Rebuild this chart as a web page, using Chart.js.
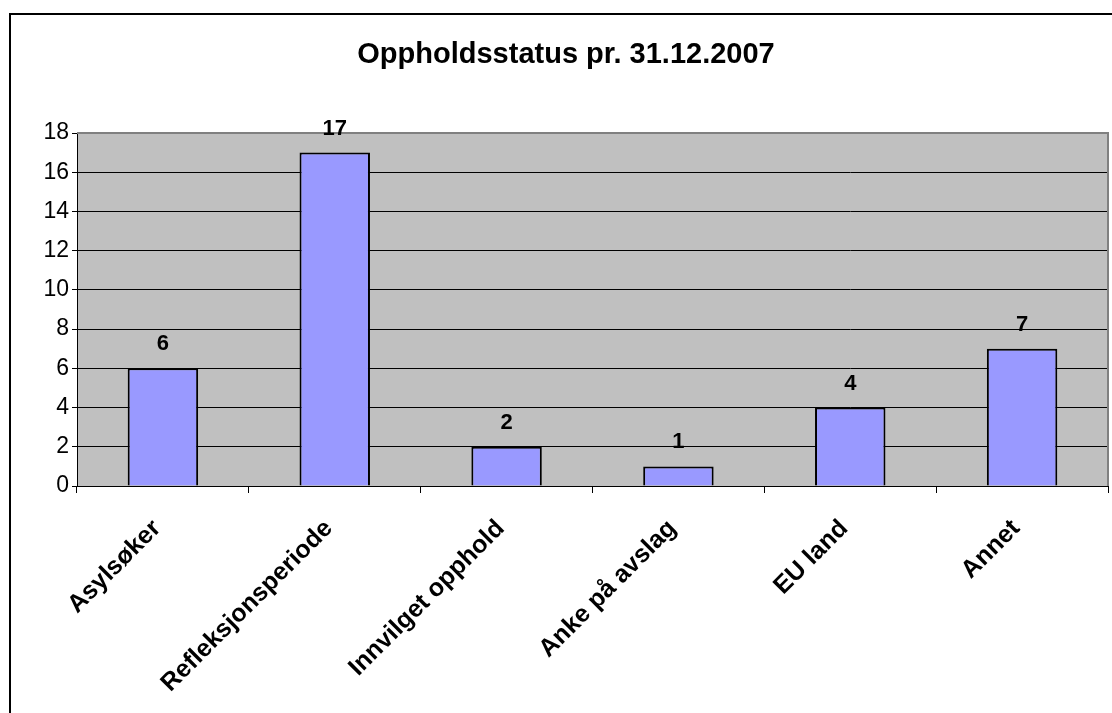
<!DOCTYPE html>
<html>
<head>
<meta charset="utf-8">
<script src="https://cdn.jsdelivr.net/npm/chart.js@4/dist/chart.umd.min.js"></script>
<style>
  html, body { margin: 0; padding: 0; background: #fff; }
  #wrap { position: relative; width: 1112px; height: 713px; }
</style>
</head>
<body>
<div id="wrap"><canvas id="c" width="1112" height="713"></canvas></div>
<script>
const titleText = 'Oppholdsstatus pr. 31.12.2007';
const categories = ['Asylsøker', 'Refleksjonsperiode', 'Innvilget opphold', 'Anke på avslag', 'EU land', 'Annet'];
const values = [6, 17, 2, 1, 4, 7];
const yMin = 0, yMax = 18, yStep = 2;

const FONT = '"Liberation Sans", Arial, sans-serif';

const decor = {
  id: 'decor',
  beforeDraw(chart) {
    const { ctx, chartArea: a } = chart;
    ctx.save();
    ctx.fillStyle = '#C0C0C0';
    ctx.fillRect(a.left, a.top, a.right - a.left, a.bottom - a.top);
    ctx.restore();
  },
  beforeDatasetsDraw(chart) {
    const { ctx, chartArea: a } = chart;
    ctx.save();
    ctx.strokeStyle = '#808080';
    ctx.lineWidth = 2;
    ctx.beginPath();
    ctx.moveTo(a.left, a.top);
    ctx.lineTo(a.right, a.top);
    ctx.lineTo(a.right, a.bottom);
    ctx.stroke();
    ctx.restore();
  },
  afterDraw(chart) {
    const { ctx } = chart;
    ctx.save();
    ctx.strokeStyle = '#000';
    ctx.lineWidth = 2;
    ctx.beginPath();
    ctx.moveTo(10, 730);
    ctx.lineTo(10, 14);
    ctx.lineTo(1130, 14);
    ctx.stroke();
    // title
    ctx.fillStyle = '#000';
    ctx.font = 'bold 29px ' + FONT;
    ctx.textAlign = 'center';
    ctx.textBaseline = 'middle';
    ctx.fillText(titleText, 566, 55);
    ctx.restore();
  },
  afterDatasetsDraw(chart) {
    const { ctx } = chart;
    const meta = chart.getDatasetMeta(0);
    ctx.save();
    ctx.fillStyle = '#000';
    ctx.font = 'bold 22px ' + FONT;
    ctx.textAlign = 'center';
    ctx.textBaseline = 'middle';
    meta.data.forEach((bar, i) => {
      ctx.fillText(String(values[i]), bar.x, bar.y - 24);
    });
    ctx.restore();
  }
};

new Chart(document.getElementById('c'), {
  type: 'bar',
  data: {
    labels: categories,
    datasets: [{
      data: values,
      backgroundColor: '#9999FF',
      borderColor: '#000000',
      borderWidth: 2,
      barPercentage: 0.41,
      categoryPercentage: 1.0
    }]
  },
  options: {
    responsive: false,
    animation: false,
    devicePixelRatio: 1,
    layout: { padding: { left: 0, right: 4, top: 133, bottom: 0 } },
    plugins: {
      legend: { display: false },
      tooltip: { enabled: false },
      title: { display: false }
    },
    scales: {
      x: {
        afterFit(s) { s.height = 227; },
        grid: {
          drawOnChartArea: false,
          drawTicks: true,
          tickLength: 7,
          color: '#000',
          offset: true
        },
        border: { display: true, color: '#000', width: 1 },
        ticks: {
          color: '#000',
          font: { family: FONT, size: 25, weight: 'bold' },
          minRotation: 45,
          maxRotation: 45,
          autoSkip: false,
          padding: 21,
          labelOffset: -6
        }
      },
      y: {
        min: yMin,
        max: yMax,
        afterFit(s) { s.width = 77; },
        grid: {
          color: (c) => (c.tick && c.tick.value === yMax) ? 'rgba(0,0,0,0)' : '#000',
          tickColor: '#000',
          tickLength: 5,
          lineWidth: 1
        },
        border: { display: true, color: '#000', width: 1 },
        ticks: {
          stepSize: yStep,
          color: '#000',
          font: { family: FONT, size: 23 },
          padding: 3
        }
      }
    }
  },
  plugins: [decor]
});
</script>
</body>
</html>
